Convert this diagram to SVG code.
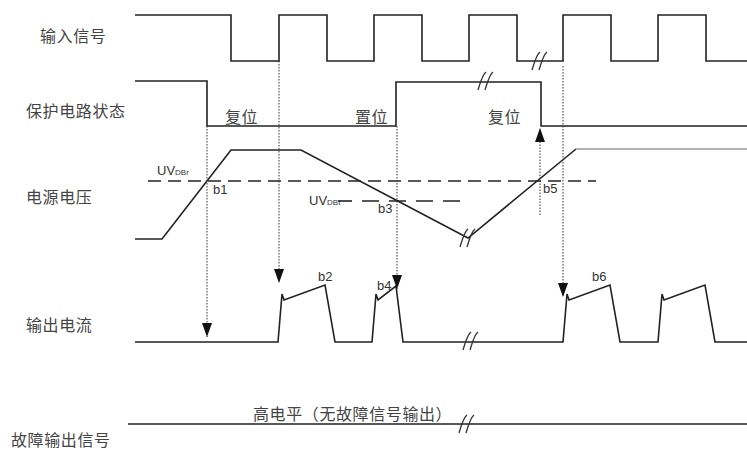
<svg xmlns="http://www.w3.org/2000/svg" width="747" height="451" viewBox="0 0 747 451">
<defs>
<style>
.lbl{font-family:"Noto Sans CJK SC","Liberation Serif",serif;font-size:16px;fill:#444;letter-spacing:0.6px}
.sm{font-family:"Liberation Sans",Arial,sans-serif;font-size:13px;fill:#333}
.sub{font-size:8px}
.sig{fill:none;stroke:#222;stroke-width:1.6;stroke-linejoin:miter}
.dash{fill:none;stroke:#222;stroke-width:1.4;stroke-dasharray:13,7}
.dot{fill:none;stroke:#333;stroke-width:1;stroke-dasharray:1.5,1.5}
.brk{fill:none;stroke:#333;stroke-width:1.3}
</style>
<marker id="ah" viewBox="0 0 10 10" preserveAspectRatio="none" refX="10" refY="5" markerWidth="14" markerHeight="10" markerUnits="userSpaceOnUse" orient="auto">
<path d="M0,0 L10,5 L0,10 z" fill="#111"/>
</marker>
<symbol id="brkmark" overflow="visible">
<path class="brk" d="M-8,9 C-6,3 -4,-6 0,-9 M-1,9 C1,3 3,-6 7,-9"/>
</symbol>
</defs>
<rect width="747" height="451" fill="#fff"/>
<g id="labels">
<text class="lbl" x="40" y="42">输入信号</text>
<text class="lbl" x="26" y="117">保护电路状态</text>
<text class="lbl" x="26" y="203">电源电压</text>
<text class="lbl" x="26" y="331">输出电流</text>
<text class="lbl" x="11" y="446">故障输出信号</text>
<text class="lbl" x="225" y="123">复位</text>
<text class="lbl" x="355" y="123">置位</text>
<text class="lbl" x="488" y="123">复位</text>
<text class="lbl" x="253" y="420">高电平（无故障信号输出）</text>
<text class="sm" x="157" y="175">UV<tspan class="sub">DBr</tspan></text>
<text class="sm" x="309" y="205">UV<tspan class="sub">DBt</tspan></text>
<text class="sm" x="213" y="194">b1</text>
<text class="sm" x="378" y="213">b3</text>
<text class="sm" x="543" y="193">b5</text>
<text class="sm" x="318" y="281">b2</text>
<text class="sm" x="377" y="290">b4</text>
<text class="sm" x="592" y="281">b6</text>
</g>
<g id="input-signal">
<path class="sig" d="M135,15 H231 V61 H279 V15 H327 V61 H374 V15 H422 V61 H469 V15 H517 V61 H563 V15 H611 V61 H658 V15 H706 V61 H747"/>
<use href="#brkmark" x="540" y="61"/>
</g>
<g id="protection-state">
<path class="sig" d="M135,81 H207 V126 H396 V82 H541 V126 H747"/>
<use href="#brkmark" x="486" y="81"/>
</g>
<g id="supply-voltage">
<path class="dash" d="M148,181 H596"/>
<path class="sig" d="M338,201 H352" stroke-width="1.2"/>
<path class="dash" d="M362,201 H469" style="stroke-dasharray:17,10"/>
<path class="sig" d="M135,239 H162 L231,150 H301 L468,238 L576,149"/>
<path class="sig" d="M576,149 H747" style="stroke:#999"/>
<use href="#brkmark" x="468" y="238"/>
</g>
<g id="output-current">
<path class="sig" d="M135,342 H278 L282,294 L284,300 L325,285 L335,342 H372 L376,294 L378,300 L396,286 L403,342 H563 L567,294 L569,300 L610,285 L620,342 H658 L662,294 L664,300 L705,285 L715,342 H747"/>
<use href="#brkmark" x="471" y="341"/>
</g>
<g id="fault-output">
<path class="sig" d="M128,424 H747"/>
<use href="#brkmark" x="467" y="424"/>
</g>
<g id="connectors">
<path class="dot" d="M207,126 V337" marker-end="url(#ah)"/>
<path class="dot" d="M279,61 V283" marker-end="url(#ah)"/>
<path class="dot" d="M397,126 V289" marker-end="url(#ah)"/>
<path class="dot" d="M563,66 V297" marker-end="url(#ah)"/>
<path class="dot" d="M540,215 V128" marker-end="url(#ah)"/>
</g>
</svg>
